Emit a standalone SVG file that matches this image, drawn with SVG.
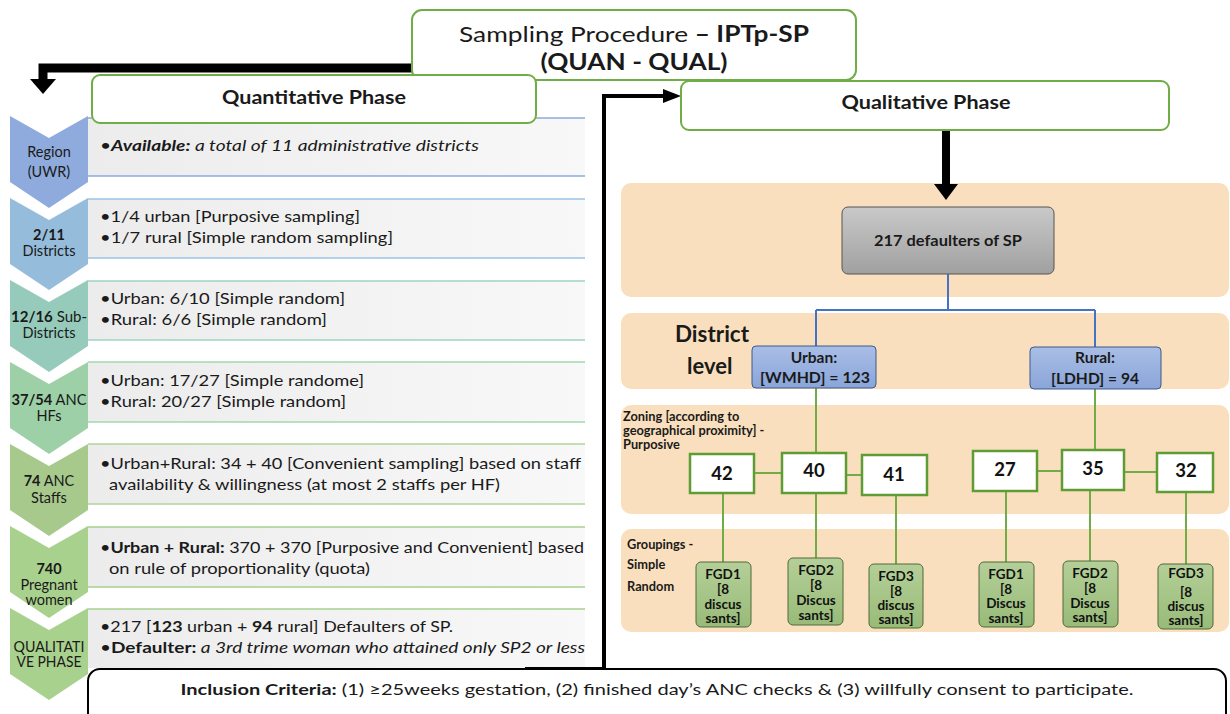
<svg xmlns="http://www.w3.org/2000/svg" width="1230" height="714" viewBox="0 0 1230 714">
<defs>
<style>
text{font-family:Lato,"Open Sans","Liberation Sans",sans-serif;fill:#1a1a1a}
.row{font-size:16px}
.chev{font-size:14.5px;text-anchor:middle}
.b{font-weight:bold}
.i{font-style:italic}
.hdr{fill:#fff;stroke:#70ad47;stroke-width:2}
.band{fill:#f9dfbd}
.num{fill:#fff;stroke:#5e9c36;stroke-width:2.5}
.numt{font-size:18.5px;font-weight:bold;text-anchor:middle;fill:#111}
.fgd{fill:url(#gfgd);stroke:#4e6b3a;stroke-width:1}
.fgdt{font-size:13.5px;font-weight:bold;text-anchor:middle;fill:#111}
.gl{stroke:#70ad47;stroke-width:2;fill:none}
.bl{stroke:#4472c4;stroke-width:2;fill:none}
.sm{font-size:12.8px;font-weight:bold}
</style>
<linearGradient id="grow" x1="0" y1="0" x2="1" y2="0"><stop offset="0" stop-color="#ececec"/><stop offset="1" stop-color="#f8f8f8"/></linearGradient>
<linearGradient id="ggray" x1="0" y1="0" x2="0" y2="1"><stop offset="0" stop-color="#c9c9c9"/><stop offset="1" stop-color="#a0a0a0"/></linearGradient>
<linearGradient id="gblue" x1="0" y1="0" x2="0" y2="1"><stop offset="0" stop-color="#a9bee6"/><stop offset="1" stop-color="#8aa5d9"/></linearGradient>
<linearGradient id="gfgd" x1="0" y1="0" x2="0" y2="1"><stop offset="0" stop-color="#b4cf98"/><stop offset="1" stop-color="#98bb78"/></linearGradient>
</defs>
<rect width="1230" height="714" fill="#fff"/>

<!-- Left rows -->
<g id="row1">
<rect x="88" y="118" width="497" height="58" fill="url(#grow)"/>
<line x1="88" y1="118" x2="585" y2="118" stroke="#8eaadb" stroke-width="1.5"/>
<line x1="88" y1="176" x2="585" y2="176" stroke="#8eaadb" stroke-width="1.5"/>
<path d="M10,116 L49,138 L88,116 L88,182 L49,208 L10,182 Z" fill="#8faadc"/>
<text class="chev" x="49" y="157">Region</text>
<text class="chev" x="49" y="177">(UWR)</text>
<text class="row" x="100" y="151" textLength="379" lengthAdjust="spacingAndGlyphs">•<tspan class="b i">Available:</tspan><tspan class="i"> a total of 11 administrative districts</tspan></text>
</g>
<g id="row2">
<rect x="88" y="199" width="497" height="59" fill="url(#grow)"/>
<line x1="88" y1="199" x2="585" y2="199" stroke="#9dc3e6" stroke-width="1.5"/>
<line x1="88" y1="258" x2="585" y2="258" stroke="#9dc3e6" stroke-width="1.5"/>
<path d="M10,198 L49,220 L88,198 L88,264 L49,290 L10,264 Z" fill="#95bddb"/>
<text class="chev b" x="49" y="240">2/11</text>
<text class="chev" x="49" y="256">Districts</text>
<text class="row" x="100" y="222" textLength="260" lengthAdjust="spacingAndGlyphs">•1/4 urban [Purposive sampling]</text>
<text class="row" x="100" y="243" textLength="293" lengthAdjust="spacingAndGlyphs">•1/7 rural [Simple random sampling]</text>
</g>
<g id="row3">
<rect x="88" y="281" width="497" height="59" fill="url(#grow)"/>
<line x1="88" y1="281" x2="585" y2="281" stroke="#9fd3c6" stroke-width="1.5"/>
<line x1="88" y1="340" x2="585" y2="340" stroke="#9fd3c6" stroke-width="1.5"/>
<path d="M10,280 L49,302 L88,280 L88,346 L49,372 L10,346 Z" fill="#96cbbc"/>
<text class="chev" x="49" y="322" textLength="76" lengthAdjust="spacingAndGlyphs"><tspan class="b">12/16</tspan> Sub-</text>
<text class="chev" x="49" y="338">Districts</text>
<text class="row" x="100" y="304" textLength="245" lengthAdjust="spacingAndGlyphs">•Urban: 6/10 [Simple random]</text>
<text class="row" x="100" y="325" textLength="227" lengthAdjust="spacingAndGlyphs">•Rural: 6/6 [Simple random]</text>
</g>
<g id="row4">
<rect x="88" y="362" width="497" height="60" fill="url(#grow)"/>
<line x1="88" y1="362" x2="585" y2="362" stroke="#a4d6b0" stroke-width="1.5"/>
<line x1="88" y1="422" x2="585" y2="422" stroke="#a4d6b0" stroke-width="1.5"/>
<path d="M10,362 L49,384 L88,362 L88,428 L49,454 L10,428 Z" fill="#9dd0a6"/>
<text class="chev" x="49" y="405" textLength="75" lengthAdjust="spacingAndGlyphs"><tspan class="b">37/54</tspan> ANC</text>
<text class="chev" x="49" y="421">HFs</text>
<text class="row" x="100" y="386" textLength="264" lengthAdjust="spacingAndGlyphs">•Urban: 17/27 [Simple randome]</text>
<text class="row" x="100" y="407" textLength="246" lengthAdjust="spacingAndGlyphs">•Rural: 20/27 [Simple random]</text>
</g>
<g id="row5">
<rect x="88" y="444" width="497" height="60" fill="url(#grow)"/>
<line x1="88" y1="444" x2="585" y2="444" stroke="#b2d49a" stroke-width="1.5"/>
<line x1="88" y1="504" x2="585" y2="504" stroke="#b2d49a" stroke-width="1.5"/>
<path d="M10,444 L49,466 L88,444 L88,510 L49,536 L10,510 Z" fill="#a8c98c"/>
<text class="chev" x="49" y="486"><tspan class="b">74</tspan> ANC</text>
<text class="chev" x="49" y="503">Staffs</text>
<text class="row" x="100" y="469" textLength="481" lengthAdjust="spacingAndGlyphs">•Urban+Rural: 34 + 40 [Convenient sampling] based on staff</text>
<text class="row" x="109" y="490" textLength="391" lengthAdjust="spacingAndGlyphs">availability &amp; willingness (at most 2 staffs per HF)</text>
</g>
<g id="row6">
<rect x="88" y="527" width="497" height="60" fill="url(#grow)"/>
<line x1="88" y1="527" x2="585" y2="527" stroke="#a9d18e" stroke-width="1.5"/>
<line x1="88" y1="587" x2="585" y2="587" stroke="#a9d18e" stroke-width="1.5"/>
<path d="M10,526 L49,548 L88,526 L88,592 L49,618 L10,592 Z" fill="#a9d18e"/>
<text class="chev b" x="49" y="574">740</text>
<text class="chev" x="49" y="590">Pregnant</text>
<text class="chev" x="49" y="605">women</text>
<text class="row" x="100" y="553" textLength="484" lengthAdjust="spacingAndGlyphs">•<tspan class="b">Urban + Rural:</tspan> 370 + 370 [Purposive and Convenient] based</text>
<text class="row" x="109" y="574" textLength="261" lengthAdjust="spacingAndGlyphs">on rule of proportionality (quota)</text>
</g>
<g id="row7">
<rect x="88" y="609" width="497" height="59" fill="url(#grow)"/>
<line x1="88" y1="609" x2="585" y2="609" stroke="#a9d18e" stroke-width="1.5"/>
<path d="M10,608 L49,630 L88,608 L88,674 L49,700 L10,674 Z" fill="#a9d18e"/>
<text class="chev" x="49" y="652" textLength="71" lengthAdjust="spacingAndGlyphs">QUALITATI</text>
<text class="chev" x="49" y="667" textLength="65" lengthAdjust="spacingAndGlyphs">VE PHASE</text>
<text class="row" x="100" y="632" textLength="353" lengthAdjust="spacingAndGlyphs">•217 [<tspan class="b">123</tspan> urban + <tspan class="b">94</tspan> rural] Defaulters of SP.</text>
<text class="row" x="100" y="653" textLength="485" lengthAdjust="spacingAndGlyphs">•<tspan class="b">Defaulter:</tspan><tspan class="i"> a 3rd trime woman who attained only SP2 or less</tspan></text>
</g>

<!-- Right bands -->
<g id="bands">
<rect class="band" x="621" y="183" width="608" height="114" rx="10"/>
<rect class="band" x="621" y="313" width="608" height="76" rx="10"/>
<rect class="band" x="621" y="405" width="608" height="109" rx="10"/>
<rect class="band" x="621" y="529" width="608" height="103" rx="10"/>
</g>

<!-- Connectors -->
<g id="connectors">
<path d="M413,68 L43,68 L43,80" stroke="#000" stroke-width="9" fill="none"/>
<path d="M30,79 L56,79 L43,94 Z" fill="#000"/>
<path d="M525,669 L604,669 L604,96 L665,96" stroke="#000" stroke-width="4" fill="none"/>
<path d="M663,89 L681,96 L663,103 Z" fill="#000"/>
<line x1="946" y1="130" x2="946" y2="186" stroke="#000" stroke-width="8"/>
<path d="M934,184 L958,184 L946,200 Z" fill="#000"/>
<path class="bl" d="M948,274 L948,310 M816,310 L1095,310 M816,310 L816,347 M1095,310 L1095,348"/>
<path class="gl" d="M816,388 L816,453 M1095,389 L1095,450"/>
<path class="gl" d="M754,473 L782,473 M846,475 L862,475 M1037,471 L1062,471 M1124,472 L1157,472"/>
<path class="gl" d="M723,494 L723,562 M816,494 L816,558 M896,496 L896,564 M1006,492 L1006,562 M1090,491 L1090,561 M1186,493 L1186,564"/>
</g>

<!-- Headers -->
<g id="title">
<rect class="hdr" x="412" y="10" width="444" height="70" rx="10"/>
<text x="634" y="42" text-anchor="middle" font-size="22" textLength="350" lengthAdjust="spacingAndGlyphs">Sampling Procedure <tspan class="b">– IPTp-SP</tspan></text>
<text x="634" y="70" text-anchor="middle" font-size="22" class="b" textLength="187" lengthAdjust="spacingAndGlyphs">(QUAN - QUAL)</text>
</g>
<g id="quant">
<rect class="hdr" x="92" y="75" width="444" height="48" rx="8"/>
<text x="314" y="104" text-anchor="middle" font-size="19" class="b" textLength="184" lengthAdjust="spacingAndGlyphs">Quantitative Phase</text>
</g>
<g id="qual">
<rect class="hdr" x="681" y="81" width="488" height="49" rx="8"/>
<text x="926" y="109" text-anchor="middle" font-size="19" class="b" textLength="169" lengthAdjust="spacingAndGlyphs">Qualitative Phase</text>
</g>

<g id="defaulters">
<rect x="842" y="207" width="212" height="67" rx="6" fill="url(#ggray)" stroke="#555" stroke-width="1"/>
<text x="948" y="246" text-anchor="middle" font-size="16" class="b" textLength="148" lengthAdjust="spacingAndGlyphs">217 defaulters of SP</text>
</g>
<g id="district-label">
<text x="675" y="342" font-size="22" class="b" textLength="74" lengthAdjust="spacingAndGlyphs">District</text>
<text x="687" y="374" font-size="22" class="b">level</text>
</g>
<g id="urban">
<rect x="752" y="346" width="124" height="42" rx="4" fill="url(#gblue)" stroke="#3d5a8a" stroke-width="1"/>
<text x="814" y="363" text-anchor="middle" font-size="15.5" class="b">Urban:</text>
<text x="815" y="383" text-anchor="middle" font-size="15.5" class="b" textLength="110" lengthAdjust="spacingAndGlyphs">[WMHD] = 123</text>
</g>
<g id="rural">
<rect x="1030" y="347" width="131" height="42" rx="4" fill="url(#gblue)" stroke="#3d5a8a" stroke-width="1"/>
<text x="1095" y="363" text-anchor="middle" font-size="15.5" class="b">Rural:</text>
<text x="1095" y="384" text-anchor="middle" font-size="15.5" class="b" textLength="88" lengthAdjust="spacingAndGlyphs">[LDHD] = 94</text>
</g>
<g id="zoning-label">
<text class="sm" x="623" y="421">Zoning [according to</text>
<text class="sm" x="623" y="435">geographical proximity] -</text>
<text class="sm" x="623" y="449">Purposive</text>
</g>
<g id="groupings-label">
<text class="sm" x="627" y="549">Groupings -</text>
<text class="sm" x="627" y="569">Simple</text>
<text class="sm" x="627" y="591">Random</text>
</g>

<g id="z42"><rect class="num" x="690" y="454" width="64" height="39"/><text class="numt" x="722" y="480">42</text></g>
<g id="z40"><rect class="num" x="782" y="453" width="64" height="40"/><text class="numt" x="814" y="477">40</text></g>
<g id="z41"><rect class="num" x="862" y="455" width="65" height="40"/><text class="numt" x="894" y="481">41</text></g>
<g id="z27"><rect class="num" x="973" y="451" width="64" height="40"/><text class="numt" x="1005" y="476">27</text></g>
<g id="z35"><rect class="num" x="1062" y="450" width="62" height="40"/><text class="numt" x="1093" y="475">35</text></g>
<g id="z32"><rect class="num" x="1157" y="453" width="56" height="39"/><text class="numt" x="1186" y="477">32</text></g>

<g id="fgd1u"><rect class="fgd" x="696" y="562" width="55" height="65" rx="5"/>
<text class="fgdt" x="723" y="579">FGD1</text><text class="fgdt" x="723" y="594">[8</text><text class="fgdt" x="723" y="609">discus</text><text class="fgdt" x="723" y="623">sants]</text></g>
<g id="fgd2u"><rect class="fgd" x="788" y="558" width="55" height="67" rx="5"/>
<text class="fgdt" x="816" y="575">FGD2</text><text class="fgdt" x="816" y="590">[8</text><text class="fgdt" x="816" y="605">Discus</text><text class="fgdt" x="816" y="620">sants]</text></g>
<g id="fgd3u"><rect class="fgd" x="869" y="564" width="54" height="64" rx="5"/>
<text class="fgdt" x="896" y="581">FGD3</text><text class="fgdt" x="896" y="596">[8</text><text class="fgdt" x="896" y="610">discus</text><text class="fgdt" x="896" y="624">sants]</text></g>
<g id="fgd1r"><rect class="fgd" x="979" y="562" width="55" height="65" rx="5"/>
<text class="fgdt" x="1006" y="579">FGD1</text><text class="fgdt" x="1006" y="594">[8</text><text class="fgdt" x="1006" y="608">Discus</text><text class="fgdt" x="1006" y="623">sants]</text></g>
<g id="fgd2r"><rect class="fgd" x="1063" y="561" width="55" height="66" rx="5"/>
<text class="fgdt" x="1090" y="578">FGD2</text><text class="fgdt" x="1090" y="593">[8</text><text class="fgdt" x="1090" y="608">Discus</text><text class="fgdt" x="1090" y="622">sants]</text></g>
<g id="fgd3r"><rect class="fgd" x="1158" y="564" width="55" height="65" rx="5"/>
<text class="fgdt" x="1186" y="578">FGD3</text><text class="fgdt" x="1186" y="597">[8</text><text class="fgdt" x="1186" y="611">discus</text><text class="fgdt" x="1186" y="625">sants]</text></g>

<g id="inclusion">
<rect x="88" y="669" width="1138" height="60" rx="12" fill="#fff" stroke="#000" stroke-width="2"/>
<text x="657" y="695" text-anchor="middle" font-size="16" textLength="953" lengthAdjust="spacingAndGlyphs"><tspan class="b">Inclusion Criteria:</tspan> (1) ≥25weeks gestation, (2) finished day’s ANC checks &amp; (3) willfully consent to participate.</text>
</g>
</svg>
